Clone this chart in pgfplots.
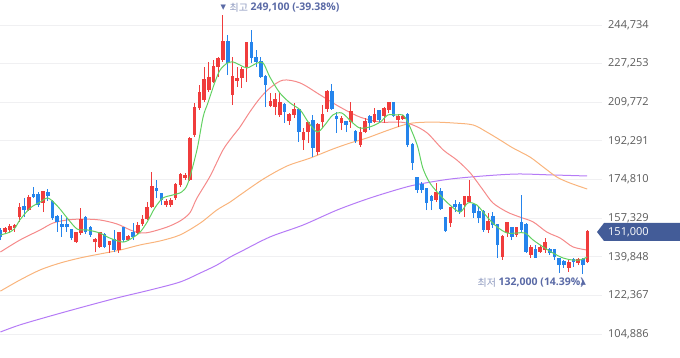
\documentclass[border=0pt]{standalone}
\usepackage{pgfplots}
\usepackage{pgfplotstable}
\pgfplotsset{compat=1.18}
\usepackage{fontspec}
\setmainfont{Open Sans}
\newfontfamily\kr{Noto Sans CJK KR}
\newfontfamily\sym{DejaVu Sans}
\definecolor{upc}{HTML}{F03C3C}
\definecolor{dnc}{HTML}{2584EC}
\definecolor{maA}{HTML}{62D162}
\definecolor{maB}{HTML}{F58A8A}
\definecolor{maC}{HTML}{F9B47C}
\definecolor{maD}{HTML}{B57BF6}
\definecolor{gridc}{HTML}{F0F0F2}
\definecolor{tickc}{HTML}{5A5A5A}
\definecolor{annc}{HTML}{5A6AA6}
\definecolor{annl}{HTML}{8C98BE}
\definecolor{boxc}{HTML}{435C98}

% up (red) candles: index open high low close (thousand won)
\pgfplotstableread{
i o h l c
1 151.1 153.3 150.2 152.4
2 152.0 154.7 150.6 153.3
3 152.9 154.7 151.1 154.0
4 157.8 164.2 155.6 161.9
6 161.0 167.8 160.6 166.4
9 164.2 169.6 160.1 169.2
16 146.5 151.1 146.1 150.6
17 150.6 161.9 149.7 156.5
20 146.5 148.3 142.0 147.4
21 144.3 151.1 143.8 150.6
23 145.2 147.0 141.6 146.5
25 142.9 150.6 141.6 150.6
27 147.4 149.7 147.0 148.8
29 150.6 155.6 150.2 153.8
30 154.7 158.7 153.8 156.5
31 156.9 164.6 156.5 161.9
32 162.4 178.2 161.9 171.4
35 163.3 166.0 162.4 164.6
36 163.3 166.4 162.4 165.1
37 166.4 173.2 165.5 172.3
38 172.3 177.8 171.4 176.9
39 175.5 177.8 174.6 176.4
40 174.6 194.0 174.1 193.1
41 195.0 209.4 194.0 207.2
42 207.2 217.6 206.3 214.0
43 210.8 225.7 209.9 219.8
44 215.3 228.0 214.4 220.8
45 218.9 228.9 218.5 225.7
46 225.7 230.3 221.2 229.4
47 228.9 249.1 228.0 237.0
49 213.1 230.3 208.5 221.2
50 219.4 225.7 216.7 220.3
51 220.8 225.7 216.2 224.4
52 225.7 236.6 218.9 236.6
57 208.1 214.0 207.6 209.9
58 207.6 214.0 204.0 210.8
59 204.0 214.0 203.1 209.4
61 201.3 204.9 199.5 204.0
62 204.0 209.4 202.6 206.3
64 192.7 198.1 188.2 195.9
65 196.3 200.8 191.3 200.4
67 187.3 200.4 185.9 199.5
68 200.8 208.5 198.1 204.0
69 206.7 215.3 205.4 214.4
72 200.4 203.6 197.2 202.2
74 200.8 209.9 198.1 205.4
76 190.4 198.6 189.5 195.9
77 196.3 202.6 195.9 200.8
79 200.8 207.2 200.4 204.0
81 203.6 207.6 200.4 206.7
82 206.3 209.9 204.9 209.4
84 201.7 204.5 198.6 203.1
85 202.2 204.0 201.7 203.1
92 165.5 173.2 164.6 168.7
95 155.1 162.4 153.3 161.9
98 163.3 166.9 157.8 166.9
99 164.6 174.6 164.2 166.9
103 152.0 159.7 150.6 155.6
106 139.7 149.7 138.4 148.8
107 150.6 155.6 148.8 155.1
109 149.7 153.3 148.8 152.9
112 140.6 145.2 139.3 143.8
114 142.0 145.2 141.6 143.8
115 142.9 148.3 141.6 146.1
120 134.8 138.4 133.0 137.0
122 137.0 139.3 136.1 138.4
124 137.5 152.0 137.0 151.0
}\upt

% down (blue) candles
\pgfplotstableread{
i o h l c
0 151.7 152.9 147.4 149.0
5 162.4 166.4 157.8 161.0
7 167.8 171.4 166.4 166.9
8 167.8 169.2 162.4 163.3
10 168.7 170.5 165.1 167.3
11 164.6 165.5 156.5 157.4
12 157.8 158.7 151.1 155.6
13 154.2 158.7 148.8 153.3
14 154.2 157.4 151.1 153.3
15 152.0 152.4 147.4 148.3
18 157.4 158.3 150.2 151.1
19 152.9 153.8 148.8 149.7
22 149.7 150.6 143.8 144.3
24 147.4 152.0 142.0 142.9
26 152.9 153.3 146.5 147.4
28 150.6 155.1 147.4 148.8
33 170.5 174.6 166.4 169.6
34 168.2 168.7 163.3 165.5
48 237.0 240.2 222.1 227.5
53 236.6 242.5 227.5 229.8
54 229.8 233.4 225.7 228.0
55 228.0 230.3 220.8 221.2
56 221.2 222.1 207.6 217.6
60 208.5 209.4 200.4 205.4
63 206.3 207.2 191.8 196.3
66 201.3 204.0 185.0 189.1
70 214.4 218.0 206.3 206.7
71 203.1 205.4 195.9 202.2
73 200.8 201.3 196.3 199.5
75 196.3 197.2 191.3 192.2
78 203.1 204.0 197.2 200.4
80 205.8 206.3 200.4 201.7
83 209.4 209.9 203.1 203.6
86 204.0 204.9 189.5 190.4
87 190.4 191.3 179.1 182.3
88 175.5 176.0 168.7 170.1
89 172.3 173.7 168.7 170.1
90 170.5 171.0 161.0 164.2
91 166.9 167.8 161.0 165.1
93 169.2 171.0 161.0 161.5
94 157.4 157.8 151.1 151.5
96 163.3 165.5 160.1 162.4
97 163.3 164.6 159.2 160.1
100 163.3 164.2 157.4 159.7
101 160.1 162.4 155.1 157.4
102 160.1 161.0 151.1 152.0
104 157.8 160.1 152.9 154.2
105 154.2 154.2 139.3 145.2
108 152.9 153.3 147.4 148.8
110 155.1 167.8 150.6 152.0
111 154.2 155.1 141.6 142.0
113 142.9 145.2 139.3 139.3
116 142.9 143.8 140.6 141.6
117 142.9 142.9 138.4 139.7
118 138.8 139.3 132.5 136.1
119 137.5 138.4 134.8 136.1
121 138.4 139.3 135.2 137.5
123 138.4 139.3 132.0 136.1
}\dnt

\begin{document}
\begin{tikzpicture}
\useasboundingbox (0,0) rectangle (680bp,358bp);
\begin{axis}[
  at={(0,0)}, anchor=south west,
  width=602bp, height=358bp, scale only axis,
  xmin=-0.085, xmax=127.03, ymin=94.03, ymax=256.05,
  axis line style={draw=none},
  xtick=\empty,
  ytick={104.886,122.367,139.848,157.329,174.810,192.291,209.772,227.253,244.734},
  yticklabels={{104,886},{122,367},{139,848},{157,329},{174,810},{192,291},{209,772},{227,253},{244,734}},
  yticklabel pos=right,
  major tick length=0pt,
  ymajorgrids, grid style={gridc, line width=0.8bp},
  yticklabel style={font=\fontsize{11bp}{13bp}\selectfont, text=tickc, anchor=west, inner sep=0pt, xshift=6bp},
]
% moving averages
\addplot[maD, line width=1bp, smooth] coordinates {(0,105.8) (4.1,109.0) (10.5,113.0) (17.4,117.1) (24.6,121.2) (31.6,124.8) (37.9,128.4) (42.2,132.5) (45.7,136.1) (48.5,139.7) (50.6,142.0) (56.9,148.8) (63.9,154.2) (71.1,161.0) (78.0,166.4) (85.0,171.0) (88.6,172.8) (94.9,175.0) (101.9,176.4) (109.1,177.3) (116.1,176.9) (123.9,176.4)};
\addplot[maC, line width=1bp, smooth] coordinates {(0,124.3) (4.1,129.3) (8.4,133.9) (12.6,137.0) (16.8,139.3) (21.0,141.1) (25.3,142.9) (29.5,145.2) (33.7,147.0) (37.9,149.7) (42.2,155.1) (45.7,161.0) (48.5,164.6) (50.6,167.8) (55.5,175.0) (60.5,180.9) (65.4,184.5) (70.2,188.6) (73.8,191.3) (77.4,193.6) (80.8,196.3) (84.4,199.0) (87.1,200.4) (91.3,200.8) (95.6,200.4) (99.8,199.5) (102.7,196.3) (105.5,192.7) (108.2,189.1) (111.8,185.0) (114.6,180.5) (117.5,175.9) (120.3,173.2) (123.9,170.5)};
\addplot[maB, line width=1bp, smooth] coordinates {(0,142.0) (4.1,147.4) (8.4,152.0) (11.1,155.1) (14.1,156.5) (17.2,156.9) (21.0,156.5) (24.6,154.7) (27.4,152.0) (29.5,150.6) (31.6,151.0) (35.2,153.3) (37.9,156.0) (40.0,159.7) (41.5,166.4) (44.3,176.4) (47.0,188.2) (49.1,194.5) (50.6,198.6) (52.7,205.5) (54.8,211.6) (56.9,216.2) (59.7,219.8) (63.3,218.5) (67.5,213.1) (71.7,207.6) (75.9,203.1) (80.2,200.8) (84.4,200.8) (87.1,199.5) (90.1,195.9) (93.5,188.2) (96.4,183.6) (99.2,177.8) (101.9,170.1) (104.0,164.2) (107.0,160.1) (109.7,157.8) (112.5,155.6) (115.4,151.0) (118.2,148.3) (120.9,144.3) (123.9,142.9)};
% candles
\addplot[draw=none, forget plot, error bars/.cd, y dir=plus, y explicit, error mark=none,
  error bar style={draw=upc, line width=1bp}]
  table[x=i, y=l, y error expr=\thisrow{h}-\thisrow{l}] {\upt};
\addplot[draw=none, forget plot, error bars/.cd, y dir=plus, y explicit, error mark=none,
  error bar style={draw=upc, line width=3.6bp, line cap=butt}]
  table[x=i, y=o, y error expr=\thisrow{c}-\thisrow{o}+0.3] {\upt};
\addplot[draw=none, forget plot, error bars/.cd, y dir=plus, y explicit, error mark=none,
  error bar style={draw=dnc, line width=1bp}]
  table[x=i, y=l, y error expr=\thisrow{h}-\thisrow{l}] {\dnt};
\addplot[draw=none, forget plot, error bars/.cd, y dir=plus, y explicit, error mark=none,
  error bar style={draw=dnc, line width=3.6bp, line cap=butt}]
  table[x=i, y=c, y error expr=\thisrow{o}-\thisrow{c}+0.3] {\dnt};
\addplot[maA, line width=1bp, smooth] coordinates {(0,149.7) (2.0,151.0) (3.1,152.9) (4.1,156.5) (6.3,161.9) (8.4,164.6) (10.1,166.4) (12.2,162.4) (14.1,157.4) (16.2,152.4) (18.3,152.0) (21.0,150.6) (23.1,148.3) (25.9,146.5) (27.8,148.3) (29.5,151.0) (31.0,155.6) (32.6,161.9) (34.3,166.4) (36.4,167.8) (38.3,169.2) (39.6,173.2) (41.5,188.2) (42.8,203.1) (43.8,209.4) (45.3,218.9) (46.4,224.4) (47.9,227.5) (49.1,228.0) (50.6,226.6) (52.1,225.3) (54.2,227.5) (55.5,227.5) (56.9,221.2) (59.0,214.0) (61.2,209.4) (63.3,206.3) (65.0,200.8) (66.9,196.3) (68.5,199.5) (70.2,204.0) (72.1,204.9) (74.2,200.8) (75.9,198.1) (78.0,198.6) (80.2,200.8) (81.8,204.0) (83.7,204.0) (85.0,204.0) (86.1,200.4) (88.0,190.4) (89.2,180.0) (90.7,173.2) (92.8,167.8) (94.9,163.3) (97.1,160.1) (98.7,164.2) (100.6,163.3) (102.8,157.8) (104.9,153.3) (107.0,150.6) (109.1,150.6) (110.8,150.6) (112.5,147.4) (114.6,144.3) (116.7,141.5) (118.8,139.3) (120.7,138.4) (122.4,138.4) (123.9,139.7)};
\end{axis}
% annotations (1bp = 1px; y measured from bottom)
\node[text=annc, inner sep=0pt] at (223.3bp,350.5bp) {\sym\fontsize{7bp}{8bp}\selectfont ▼};
\node[text=annl, inner sep=0pt, anchor=west] at (229.5bp,350bp) {\kr\fontsize{10bp}{12bp}\selectfont 최고};
\node[text=annc, inner sep=0pt, anchor=west] at (250.5bp,350bp) {\fontsize{10.5bp}{12bp}\selectfont\bfseries 249,100 (-39.38\%)};
\node[text=annl, inner sep=0pt, anchor=west] at (477.5bp,75bp) {\kr\fontsize{10bp}{12bp}\selectfont 최저};
\node[text=annc, inner sep=0pt, anchor=west] at (498.5bp,75bp) {\fontsize{10.5bp}{12bp}\selectfont\bfseries 132,000 (14.39\%)};
\node[text=annc, inner sep=0pt] at (583.3bp,75.5bp) {\sym\fontsize{7bp}{8bp}\selectfont ▲};
% current price tag
\fill[boxc] (597bp,126bp) -- (604bp,135bp) -- (680bp,135bp) -- (680bp,117bp) -- (604bp,117bp) -- cycle;
\node[text=white, inner sep=0pt, anchor=west] at (608bp,126bp) {\fontsize{11bp}{13bp}\selectfont 151,000};
\end{tikzpicture}
\end{document}
